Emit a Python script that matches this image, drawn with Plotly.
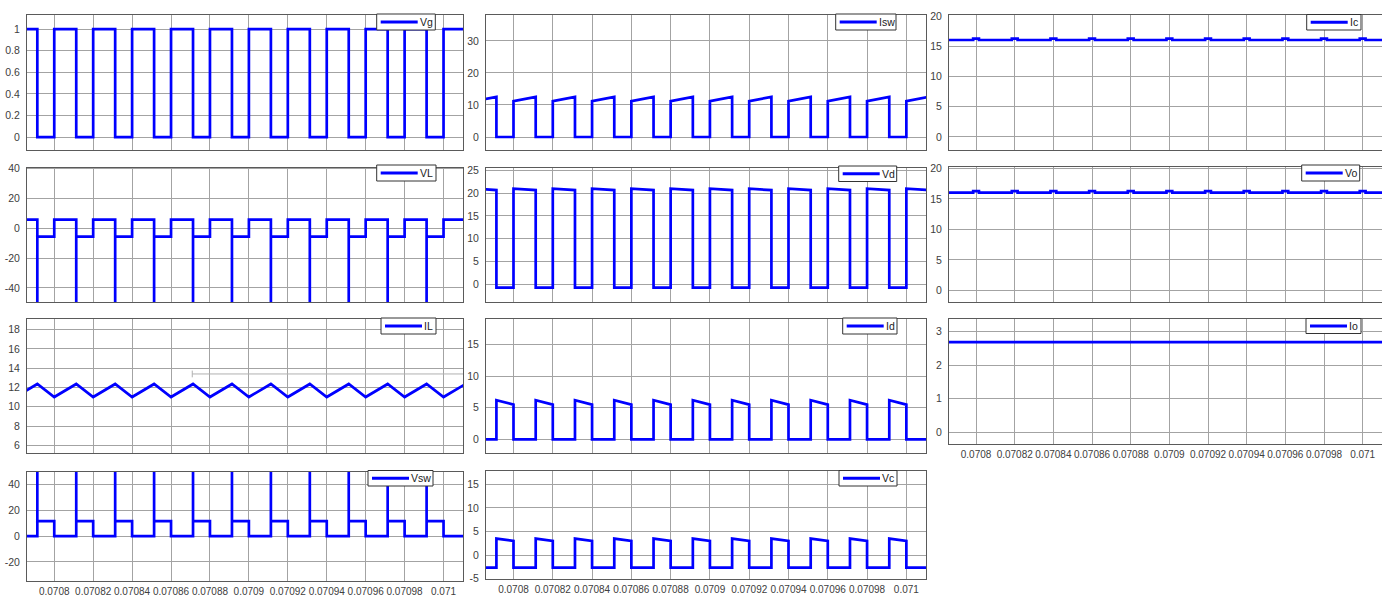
import plotly.graph_objects as go

W, H = 1382, 597

# ---------------- data ----------------
# switching instants (s): gate turns on at rise_t, off at fall_t
rise_t = [0.07078, 0.07080, 0.07082, 0.07084, 0.07086, 0.07088, 0.07090,
          0.07092, 0.07094, 0.07096, 0.07098, 0.07100, 0.07102]
fall_t = [0.0707913, 0.0708113, 0.0708313, 0.0708513, 0.0708713, 0.0708913,
          0.0709113, 0.0709313, 0.0709513, 0.0709713, 0.0709913, 0.0710113]

x_tick_vals = [0.0708, 0.07082, 0.07084, 0.07086, 0.07088, 0.0709,
               0.07092, 0.07094, 0.07096, 0.07098, 0.071]
x_tick_text = ["0.0708", "0.07082", "0.07084", "0.07086", "0.07088", "0.0709",
               "0.07092", "0.07094", "0.07096", "0.07098", "0.071"]

# levels per switching period: [on_start, on_end, off_start, off_end]
vg_levels = [1.0, 1.0, 0.0, 0.0]
vl_levels = [5.8, 5.8, -5.6, -5.6]
vl_spike = -60.0
il_levels = [11.01, 12.36, 12.36, 11.01]
vsw_levels = [0.0, 0.0, 11.6, 11.6]
vsw_spike = 60.0
isw_levels = [11.2, 12.5, 0.0, 0.0]
vd_levels = [20.95, 20.65, -0.75, -0.75]
id_levels = [0.0, 0.0, 6.2, 5.5]
vc_levels = [-2.65, -2.65, 3.5, 3.0]
ic_levels = [16.02, 16.25]     # base, small bump at turn-on
vo_levels = [16.05, 16.28]     # base, small bump at turn-on
io_level = 2.68

# IL panel: data-cursor marker seen in the picture (time, value)
il_marker = [0.0708709, 13.4]


# ---------------- waveform assembly ----------------
def switched(levels, spike=None):
    on0, on1, off0, off1 = levels
    xs, ys = [], []
    for k in range(len(fall_t)):
        xs += [rise_t[k], fall_t[k]]
        ys += [on0, on1]
        if spike is not None:
            xs.append(fall_t[k])
            ys.append(spike)
        xs += [fall_t[k], rise_t[k + 1]]
        ys += [off0, off1]
    return xs, ys


def bumped(levels, half=1.5e-6):
    base, bump = levels
    xs, ys = [], []
    for r in rise_t:
        xs += [r - half, r - half, r + half, r + half]
        ys += [base, bump, bump, base]
    return xs, ys


x_lo, x_hi = 0.070786, 0.07101

signals = {
    "Vg": switched(vg_levels),
    "VL": switched(vl_levels, vl_spike),
    "IL": switched(il_levels),
    "Vsw": switched(vsw_levels, vsw_spike),
    "Isw": switched(isw_levels),
    "Vd": switched(vd_levels),
    "Id": switched(id_levels),
    "Vc": switched(vc_levels),
    "Ic": bumped(ic_levels),
    "Vo": bumped(vo_levels),
    "Io": ([rise_t[0], rise_t[-1]], [io_level, io_level]),
}

# panel layout (pixel boxes): name, column, (top, bottom), y range, y ticks,
# x labels?, legend box (left, right, top, bottom)
cols = [(27, 463), (486, 926), (949, 1382)]
panels = [
    ("Vg", 0, (15, 150), [-0.12, 1.13], [0, 0.2, 0.4, 0.6, 0.8, 1], False, (376.7, 435.3, 14, 30)),
    ("VL", 0, (167.5, 302), [-49.5, 40.7], [-40, -20, 0, 20, 40], False, (376.7, 436, 165, 181)),
    ("IL", 0, (319.3, 453.3), [5.17, 19.07], [6, 8, 10, 12, 14, 16, 18], False, (381, 436, 318, 334)),
    ("Vsw", 0, (471.7, 580.7), [-34.6, 50], [-20, 0, 20, 40], True, (368, 433, 470.5, 486)),
    ("Isw", 1, (15, 150), [-4.06, 38.1], [0, 10, 20, 30], False, (835.7, 896, 14, 30)),
    ("Vd", 1, (168, 302), [-3.9, 25.5], [0, 5, 10, 15, 20, 25], False, (838.7, 896.7, 166, 181.5)),
    ("Id", 1, (319.3, 453.3), [-2.2, 19], [0, 5, 10, 15], False, (842.7, 897, 318, 334)),
    ("Vc", 1, (471, 579), [-5.05, 17.8], [-5, 0, 5, 10, 15], True, (839, 897, 470.5, 486)),
    ("Ic", 2, (15.3, 150), [-2.15, 20.1], [0, 5, 10, 15, 20], False, (1306.7, 1361, 14.5, 30)),
    ("Vo", 2, (167.3, 302), [-1.9, 20.2], [0, 5, 10, 15, 20], False, (1301.7, 1359.7, 165, 181)),
    ("Io", 2, (319.3, 444.3), [-0.35, 3.36], [0, 1, 2, 3], True, (1306, 1361, 318.5, 333.5)),
]

GRID = "#a3a3a3"
FRAME = "#5a5a5a"
TICKC = "#404040"
BLUE = "#0000ff"
FONT = "Arial, Liberation Sans, sans-serif"


def px(xp):
    return xp / W


def py(yp):
    return 1 - yp / H


fig = go.Figure()
layout = dict(
    width=W, height=H, margin=dict(l=0, r=0, t=0, b=0, autoexpand=False),
    paper_bgcolor="white", plot_bgcolor="white", showlegend=False,
    font=dict(family=FONT, size=10, color=TICKC),
)
shapes, annotations = [], []

for i, (name, col, (top, bot), yr, yt, xlab, lgbox) in enumerate(panels, start=1):
    sfx = "" if i == 1 else str(i)
    xs, ys = signals[name]
    fig.add_trace(go.Scatter(
        x=xs, y=ys, mode="lines", name=name,
        line=dict(color=BLUE, width=2.7),
        xaxis=f"x{sfx}", yaxis=f"y{sfx}", hoverinfo="skip",
    ))
    x0, x1 = cols[col]
    layout[f"xaxis{sfx}"] = dict(
        domain=[px(x0), px(x1)], range=[x_lo, x_hi], anchor=f"y{sfx}",
        showgrid=True, gridcolor=GRID, gridwidth=1, zeroline=False,
        tickmode="array", tickvals=x_tick_vals, ticktext=x_tick_text,
        showticklabels=xlab, ticks="", ticklabelstandoff=1, automargin=False,
        tickfont=dict(size=10, color=TICKC, family=FONT),
        showline=True, mirror=True, linecolor=FRAME, linewidth=1,
    )
    layout[f"yaxis{sfx}"] = dict(
        domain=[py(bot), py(top)], range=yr, anchor=f"x{sfx}",
        showgrid=True, gridcolor=GRID, gridwidth=1, zeroline=False,
        tickmode="array", tickvals=yt, ticktext=[f"{v:g}" for v in yt],
        ticks="", ticklabelstandoff=4, automargin=False,
        tickfont=dict(size=10.5, color=TICKC, family=FONT),
        showline=True, mirror=True, linecolor=FRAME, linewidth=1,
    )
    # MATLAB-style legend box in the top-right corner of the panel
    lx0, lx1, ly0, ly1 = lgbox
    ymid = (ly0 + ly1) / 2
    shapes.append(dict(type="rect", xref="paper", yref="paper",
                       x0=px(lx0), x1=px(lx1), y0=py(ly1), y1=py(ly0),
                       line=dict(color="#333333", width=1), fillcolor="white",
                       layer="above"))
    shapes.append(dict(type="line", xref="paper", yref="paper",
                       x0=px(lx0 + 4), x1=px(lx0 + 41), y0=py(ymid), y1=py(ymid),
                       line=dict(color=BLUE, width=3), layer="above"))
    annotations.append(dict(xref="paper", yref="paper", x=px(lx0 + 42), y=py(ymid),
                            xanchor="left", yanchor="middle", text=name,
                            showarrow=False, borderpad=0,
                            font=dict(size=10.5, color="#222222", family=FONT)))

# data-cursor marker in the IL panel
shapes.append(dict(type="line", xref="x3", yref="y3",
                   x0=il_marker[0], x1=x_hi, y0=il_marker[1], y1=il_marker[1],
                   line=dict(color="#b0b0b0", width=1)))
shapes.append(dict(type="line", xref="x3", yref="y3",
                   x0=il_marker[0], x1=il_marker[0],
                   y0=il_marker[1] - 0.35, y1=il_marker[1] + 0.35,
                   line=dict(color="#b0b0b0", width=1)))

layout["shapes"] = shapes
layout["annotations"] = annotations
fig.update_layout(**layout)

fig.write_html("out.html",
               config={"displayModeBar": False},
               post_script="document.body.style.margin='0';document.body.style.overflow='hidden';")
